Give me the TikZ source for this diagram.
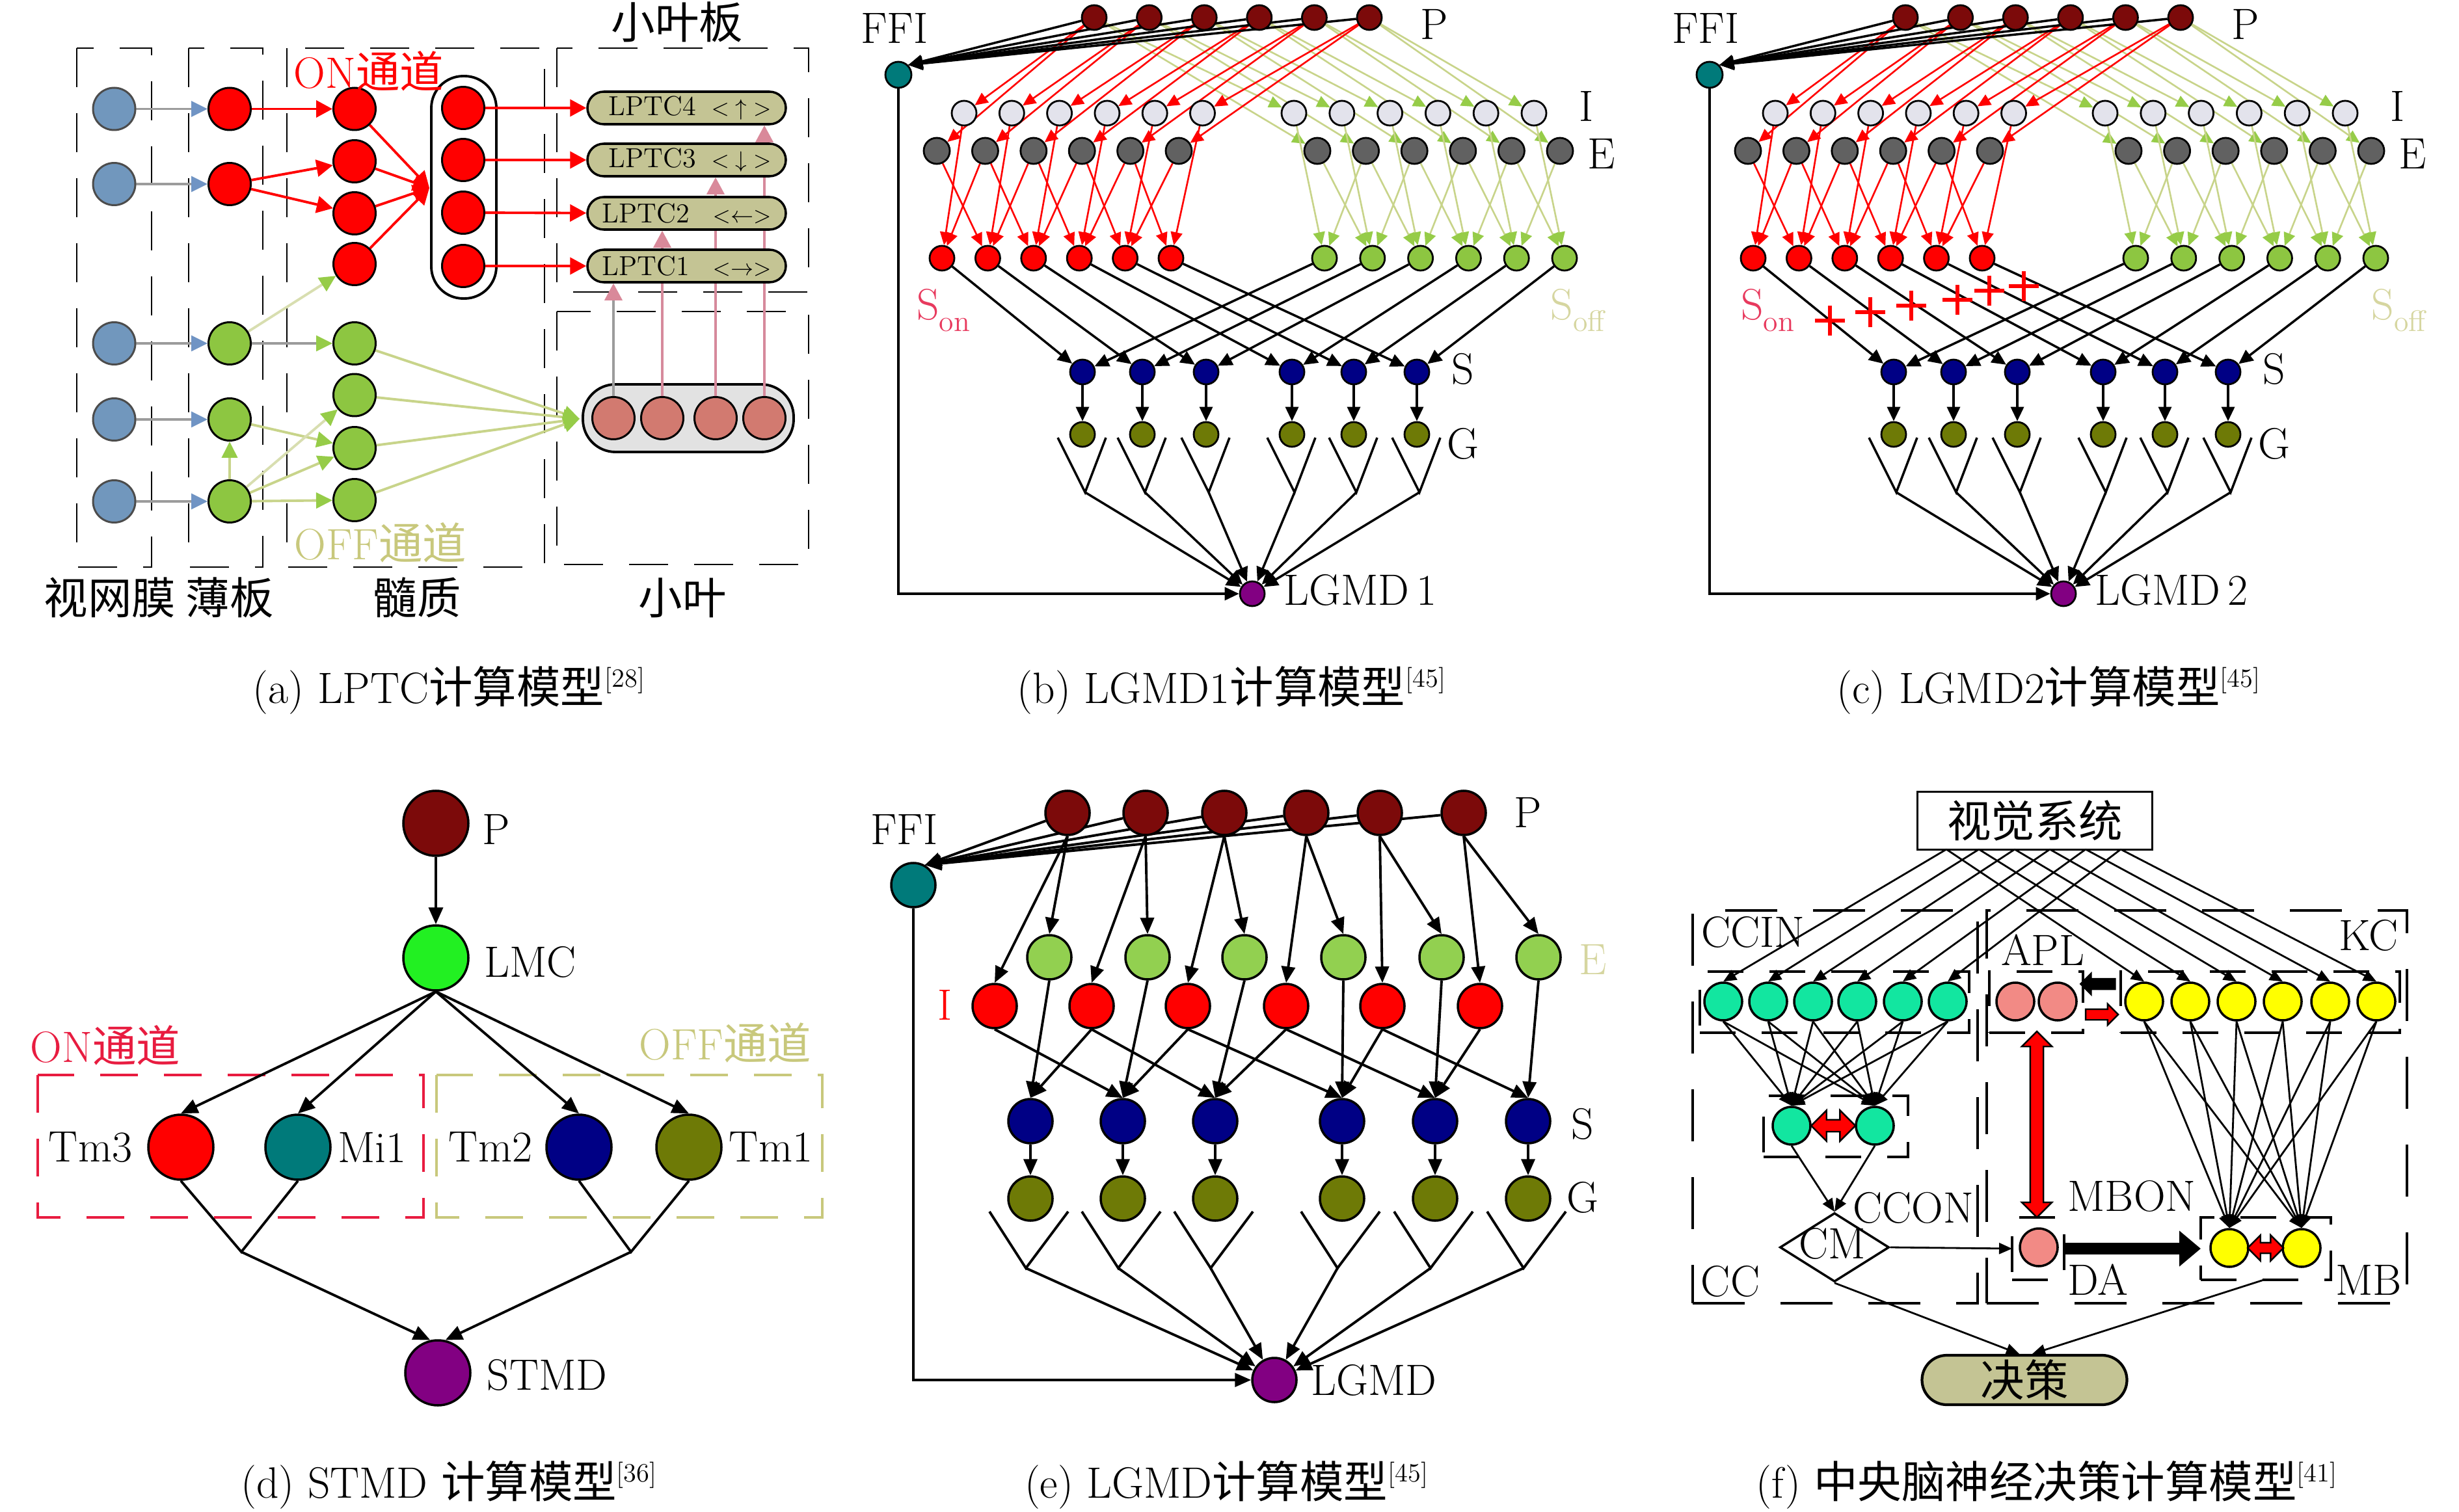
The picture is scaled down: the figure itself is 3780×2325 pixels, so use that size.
\documentclass[tikz,border=0pt]{standalone}
\usepackage{fontspec}
\newfontfamily\cjk{Noto Sans CJK SC}
\usetikzlibrary{arrows.meta,shapes.geometric,shapes.arrows,calc}
\pgfdeclarelayer{back}
\pgfdeclarelayer{edges}
\pgfsetlayers{back,edges,main}
\newcommand\fs{\fontsize{19.2}{22}\selectfont}
\newcommand\fss{\fontsize{12}{14}\selectfont}
\newcommand\symf{\fontsize{10}{12}\selectfont}
\newcommand\refsup[1]{\raisebox{0.85ex}{\fontsize{11.5}{11.5}\selectfont[#1]}}
\newcommand\subt[1]{\raisebox{-0.6ex}{\fontsize{13}{13}\selectfont #1}}
\definecolor{cRetina}{HTML}{7197BD}
\definecolor{cRetHead}{HTML}{7094C4}
\definecolor{cRed}{HTML}{FF0000}
\definecolor{cGreenA}{HTML}{8DC641}
\definecolor{cLob}{HTML}{D27A70}
\definecolor{cLobFill}{HTML}{E2E2E2}
\definecolor{cLPTC}{HTML}{C4C494}
\definecolor{cOff}{HTML}{C8C87C}
\definecolor{cOffLine}{HTML}{C8D48A}
\definecolor{cOffPale}{HTML}{D8DEB0}
\definecolor{cOffHead}{HTML}{96CC48}
\definecolor{cPinkL}{HTML}{D68A9C}
\definecolor{cPinkH}{HTML}{D9899A}
\definecolor{cGrayL}{HTML}{9C9C9C}
\definecolor{cP}{HTML}{7C0A0A}
\definecolor{cTeal}{HTML}{007A7A}
\definecolor{cIgray}{HTML}{E3E3EC}
\definecolor{cEgray}{HTML}{616161}
\definecolor{cNavy}{HTML}{000085}
\definecolor{cOlive}{HTML}{6E7A06}
\definecolor{cPurple}{HTML}{820082}
\definecolor{cLMC}{HTML}{22F022}
\definecolor{cLightG}{HTML}{92D050}
\definecolor{cAqua}{HTML}{12E6A0}
\definecolor{cSalmon}{HTML}{F28A85}
\definecolor{cYel}{HTML}{FFFF00}
\definecolor{cSon}{HTML}{E83A5E}
\definecolor{cSoff}{HTML}{D6D6A0}
\definecolor{cRedBox}{HTML}{E81C40}
\tikzset{
  na/.style={circle, draw=black, line width=0.85pt, inner sep=0pt, minimum size=6.5mm},
  nb/.style={circle, draw=black, line width=0.8pt, inner sep=0pt, minimum size=3.8mm},
  nd/.style={circle, draw=black, line width=1pt, inner sep=0pt, minimum size=10mm},
  ne/.style={circle, draw=black, line width=1pt, inner sep=0pt, minimum size=6.8mm},
  nf/.style={circle, draw=black, line width=1pt, inner sep=0pt, minimum size=5.8mm},
  boxa/.style={draw=black, line width=0.8pt, dash pattern=on 6mm off 4mm},
  fbox/.style={draw=black, line width=1pt, dash pattern=on 8mm off 5.5mm, inner sep=0pt, outer sep=0pt},
  fboxi/.style={draw=black, line width=1pt, dash pattern=on 5.5mm off 4mm, inner sep=0pt, outer sep=0pt},
  aon/.style={draw=cRed, line width=1.1pt, -{Triangle[length=2.5mm,width=2.6mm]}},
  agray/.style={draw=cGrayL, line width=1pt, -{Triangle[length=2.5mm,width=2.4mm,color=cRetHead]}},
  aoff/.style={draw=cOffLine, line width=1.1pt, -{Triangle[length=2.5mm,width=2.4mm,color=cOffHead]}},
  aoffpale/.style={draw=cOffPale, line width=1.1pt, -{Triangle[length=2.5mm,width=2.4mm,color=cOffHead]}},
  aoffgray/.style={draw=cGrayL, line width=1pt, -{Triangle[length=2.5mm,width=2.4mm,color=cOffHead]}},
  apink/.style={draw=cPinkL, line width=1pt, -{Triangle[length=2.6mm,width=2.7mm,color=cPinkH]}},
  apgray/.style={draw=cGrayL, line width=1pt, -{Triangle[length=2.6mm,width=2.7mm,color=cPinkH]}},
  lptc/.style={draw=black, line width=1pt, fill=cLPTC, rounded corners=2.5mm, minimum width=30.5mm, minimum height=5mm, text width=26mm, inner xsep=2.25mm, inner ysep=0pt, font=\fss},
  onar/.style={draw=cRed, line width=0.75pt, -{Triangle[length=2mm,width=1.8mm]}},
  offar/.style={draw=cOffLine, line width=0.75pt, -{Triangle[length=2mm,width=1.8mm,color=cOffHead]}},
  blkar/.style={draw=black, line width=1pt, -{Triangle[length=2.2mm,width=2mm]}},
  blkl/.style={draw=black, line width=1pt},
  dar/.style={draw=black, line width=1.1pt, -{Triangle[length=2.6mm,width=2.2mm]}},
  dln/.style={draw=black, line width=1.1pt},
  ear/.style={draw=black, line width=1.1pt, -{Triangle[length=2.5mm,width=2.1mm]}},
  far/.style={draw=black, line width=0.8pt, -{Triangle[length=2mm,width=1.7mm]}},
  blockred/.style={draw=black, fill=cRed, line width=0.7pt, inner xsep=0pt, outer sep=0pt},
}
% LGMD panel (b)/(c)
\newcommand\LGMDpanel[4]{%
  \node[nb, fill=cTeal, minimum size=4mm] (#1FFI) at (1381,115) {};
  \node[nb, fill=cPurple] (#1LG) at (1925,913) {};
  \foreach \k in {1,...,6}{%
    \node[nb, fill=cP] (#1P\k) at ({1682+84.6*(\k-1)},27) {};
    \node[nb, fill=cIgray] (#1I\k) at ({1482+73.3*(\k-1)},174) {};
    \node[nb, fill=cIgray] (#1J\k) at ({1989+73.8*(\k-1)},174) {};
    \node[nb, fill=cEgray, minimum size=4mm] (#1E\k) at ({1440+74.4*(\k-1)},232) {};
    \node[nb, fill=cEgray, minimum size=4mm] (#1F\k) at ({2025+74.6*(\k-1)},232) {};
    \node[nb, fill=cRed] (#1N\k) at ({1448+70.4*(\k-1)},397) {};
    \node[nb, fill=cGreenA] (#1M\k) at ({2036+73.8*(\k-1)},397) {};
  }
  \foreach \x [count=\k] in {1664,1756,1854,1986,2081,2178}{%
    \node[nb, fill=cNavy] (#1S\k) at (\x,572) {};
    \node[nb, fill=cOlive] (#1G\k) at (\x,668) {};
    \coordinate (#1V\k) at (\x+4,757);
    \coordinate (#1Va\k) at (\x-38,673);
    \coordinate (#1Vb\k) at (\x+36,673);
  }
  \node (#1tP) at (2205,37) {P};
  \node (#1tI) at (2439,163) {I};
  \node (#1tE) at (2462,237) {E};
  \node (#1tS) at (2249,567) {S};
  \node (#1tG) at (2249,682) {G};
  \node (#1tF) at (1375,43) {FFI};
  \node (#1tL) at (2091,907) {#2};
  \node[text=cSon] (#1tSon) at (#3,477) {S\subt{on}};
  \node[text=cSoff] (#1tSoff) at (#4,477) {S\subt{off}};
  \begin{pgfonlayer}{edges}
  \foreach \k in {1,...,6}{%
    \draw[blkar] (#1P\k) -- (#1FFI.45);
    \draw[onar] (#1P\k) -- (#1I\k);
    \draw[onar] (#1P\k) -- (#1E\k);
    \draw[offar] (#1P\k) -- (#1J\k);
    \draw[offar] (#1P\k) -- (#1F\k);
    \draw[onar] (#1I\k) -- (#1N\k);
    \draw[offar] (#1J\k) -- (#1M\k);
    \draw[blkar] (#1N\k) -- (#1S\k);
    \draw[blkar] (#1M\k) -- (#1S\k);
    \draw[blkar] (#1S\k) -- (#1G\k);
    \draw[blkl] (#1Va\k) -- (#1V\k) -- (#1Vb\k);
    \draw[blkar] (#1V\k) -- (#1LG);
  }
  \foreach \k/\j in {1/2,2/1,2/3,3/2,3/4,4/3,4/5,5/4,5/6,6/5}{%
    \draw[onar] (#1E\k) -- (#1N\j);
    \draw[offar] (#1F\k) -- (#1M\j);
  }
  \draw[blkar] (#1FFI) |- (#1LG);
  \end{pgfonlayer}
}
\begin{document}
\begin{tikzpicture}[x=0.1mm, y=-0.1mm, font=\fs]
\useasboundingbox (0,0) rectangle (3780,2325);
\begin{pgfonlayer}{back}
\fill[white] (0,0) rectangle (3780,2325);
\end{pgfonlayer}

%================ (a) =================
\begin{pgfonlayer}{back}
\draw[boxa] (118,74) rectangle (233,872);
\draw[boxa] (290,74) rectangle (404,872);
\draw[boxa] (441,74) rectangle (837,872);
\draw[boxa] (856,74) rectangle (1243,449);
\draw[boxa] (856,479) rectangle (1243,868);
\node[draw=black, line width=1.1pt, rounded corners=4.9mm, minimum width=10mm, minimum height=34.2mm, inner sep=0pt] (lpbox) at (713,288) {};
\node[draw=black, line width=1.1pt, fill=cLobFill, rounded corners=5mm, minimum width=32.4mm, minimum height=10.4mm, inner sep=0pt] (lobox) at (1058,643) {};
\end{pgfonlayer}
\foreach \y [count=\k] in {167.5,283,528,645,771}
  \node[na, fill=cRetina, draw=black!70] (ar\k) at (175.5,\y) {};
\node[na, fill=cRed] (al1) at (353,167.5) {};
\node[na, fill=cRed] (al2) at (353,283) {};
\node[na, fill=cGreenA] (al3) at (353,528) {};
\node[na, fill=cGreenA] (al4) at (353,645) {};
\node[na, fill=cGreenA] (al5) at (353,771) {};
\foreach \y [count=\k] in {167.5,248,328,406}
  \node[na, fill=cRed] (am\k) at (545,\y) {};
\foreach \y [count=\k from 5] in {528,607.5,689,769}
  \node[na, fill=cGreenA] (am\k) at (545,\y) {};
\foreach \y [count=\k] in {166,246,327,409}
  \node[na, fill=cRed] (ap\k) at (712,\y) {};
\foreach \x [count=\k] in {943,1018,1100,1175}
  \node[na, fill=cLob] (ao\k) at (\x,643) {};
\node[lptc] (L4) at (1055.5,166) {\hspace*{1mm}LPTC4\hfill{\symf${<}\;{\uparrow}\;{>}$}};
\node[lptc] (L3) at (1055.5,246) {\hspace*{1mm}LPTC3\hfill{\symf${<}\;{\downarrow}\;{>}$}};
\node[lptc] (L2) at (1055.5,328) {LPTC2\hfill{\symf${<}{\leftarrow}{>}$}};
\node[lptc] (L1) at (1055.5,409) {LPTC1\hfill{\symf${<}{\rightarrow}{>}$}};
\coordinate (cvR) at (660,289);
\coordinate (cvG) at (891,644);
\begin{pgfonlayer}{edges}
\foreach \k in {1,...,5} \draw[agray] (ar\k) -- (al\k);
\draw[aon] (al1) -- (am1);
\draw[aon] (al2) -- (am2);
\draw[aon] (al2) -- (am3);
\foreach \k in {1,...,4} \draw[aon] (am\k) -- (cvR);
\foreach \k/\L in {1/4,2/3,3/2,4/1} \draw[aon] (ap\k) -- (L\L);
\draw[aoffpale] (al3) -- (am4);
\draw[aoffgray] (al3) -- (am5);
\draw[aoff] (al4) -- (am7);
\draw[aoff] (al5) -- (al4);
\draw[aoffpale] (al5) -- (am6);
\draw[aoff] (al5) -- (am7);
\draw[aoff] (al5) -- (am8);
\foreach \k in {5,...,8} \draw[aoff] (am\k) -- (cvG);
\draw[apgray] (ao1.north) -- (ao1.north |- L1.south);
\foreach \k in {2,3,4} \draw[apink] (ao\k.north) -- (ao\k.north |- L\k.south);
\end{pgfonlayer}
\node[text=cRed] (aON) at (567,109) {ON{\cjk 通道}};
\node[text=cOff] (aOFF) at (585,834) {OFF{\cjk 通道}};
\node (aXYB) at (1041,34) {\cjk 小叶板};
\node (aSWM) at (169,919) {\cjk 视网膜};
\node (aBB) at (353,919) {\cjk 薄板};
\node (aSZ) at (641,919) {\cjk 髓质};
\node (aXY) at (1049,919) {\cjk 小叶};
\node (capA) at (690,1061) {(a) LPTC{\cjk 计算模型}\refsup{28}};

%================ (b) and (c) =================
\LGMDpanel{B}{LGMD\,1}{1450}{2425}
\begin{scope}[xshift=124.7mm]
\LGMDpanel{C}{LGMD\,2}{1470}{2440}
\end{scope}
\foreach \x/\y in {2813/493,2875/480,2938/470,3009/461,3058/447,3111/440}
  \draw[cRed, line width=1.5pt] (\x-23,\y) -- (\x+23,\y) (\x,\y-23) -- (\x,\y+23);
\node (capB) at (1893,1061) {(b) LGMD1{\cjk 计算模型}\refsup{45}};
\node (capC) at (3149,1061) {(c) LGMD2{\cjk 计算模型}\refsup{45}};

%================ (d) =================
\begin{pgfonlayer}{back}
\draw[draw=cRedBox, line width=0.9pt, dash pattern=on 5.8mm off 4mm] (58,1653) rectangle (651,1872);
\draw[draw=cOff, line width=0.9pt, dash pattern=on 5.8mm off 4mm] (671,1653) rectangle (1264,1872);
\end{pgfonlayer}
\node[nd, fill=cP] (dP) at (670,1266) {};
\node[nd, fill=cLMC] (dLMC) at (670,1473) {};
\node[nd, fill=cRed] (dTm3) at (278,1764) {};
\node[nd, fill=cTeal] (dMi1) at (458,1764) {};
\node[nd, fill=cNavy] (dTm2) at (890,1764) {};
\node[nd, fill=cOlive] (dTm1) at (1059,1764) {};
\node[nd, fill=cPurple] (dST) at (673,2111) {};
\coordinate (dJL) at (371,1925);
\coordinate (dJR) at (970,1925);
\begin{pgfonlayer}{edges}
\draw[dar] (dP) -- (dLMC);
\foreach \n in {dTm3,dMi1,dTm2,dTm1} \draw[dar] (dLMC.south) -- (\n.north);
\draw[dln] (dTm3.south) -- (dJL) -- (dMi1.south);
\draw[dln] (dTm2.south) -- (dJR) -- (dTm1.south);
\draw[dar] (dJL) -- (dST.103);
\draw[dar] (dJR) -- (dST.77);
\end{pgfonlayer}
\node (dtP) at (763,1275) {P};
\node (dtLMC) at (815,1479) {LMC};
\node (dtTm3) at (139,1764) {Tm3};
\node (dtMi1) at (572,1764) {Mi1};
\node (dtTm2) at (754,1764) {Tm2};
\node (dtTm1) at (1185,1764) {Tm1};
\node (dtST) at (841,2114) {STMD};
\node[text=cRedBox] (dtON) at (162,1607) {ON{\cjk 通道}};
\node[text=cOff] (dtOFF) at (1115,1603) {OFF{\cjk 通道}};
\node (capD) at (690,2283) {(d) STMD {\cjk 计算模型}\refsup{36}};

%================ (e) =================
\node[ne, fill=cTeal] (eFFI) at (1404,1361) {};
\node[ne, fill=cPurple] (eLG) at (1959,2122) {};
\foreach \x [count=\k] in {1641,1761,1882,2008,2121,2250} \node[ne, fill=cP] (eP\k) at (\x,1250) {};
\foreach \x [count=\k] in {1613,1764,1913,2065,2216,2365} \node[ne, fill=cLightG] (eE\k) at (\x,1472) {};
\foreach \x [count=\k] in {1529,1678,1826,1977,2125,2275} \node[ne, fill=cRed] (eI\k) at (\x,1547) {};
\foreach \x [count=\k] in {1584,1726,1868,2063,2206,2349}{
  \node[ne, fill=cNavy] (eS\k) at (\x,1724) {};
  \node[ne, fill=cOlive] (eG\k) at (\x,1843) {};
  \coordinate (eV\k) at (\x-7,1950);
  \coordinate (eVa\k) at (\x-63,1863);
  \coordinate (eVb\k) at (\x+58,1863);
}
\begin{pgfonlayer}{edges}
\foreach \k in {1,...,6}{
  \draw[ear] (eP\k) -- (eFFI.60);
  \draw[ear] (eP\k.south) -- (eE\k.north);
  \draw[ear] (eP\k.south) -- (eI\k.north);
  \draw[ear] (eE\k.south) -- (eS\k.north);
  \draw[ear] (eS\k.south) -- (eG\k.north);
  \draw[dln] (eVa\k) -- (eV\k) -- (eVb\k);
  \draw[ear] (eV\k) -- (eLG);
}
\foreach \k/\j in {1/2,2/1,2/3,3/2,3/4,4/3,4/5,5/4,5/6,6/5} \draw[ear] (eI\k.south) -- (eS\j.north);
\draw[ear] (eFFI) |- (eLG);
\end{pgfonlayer}
\node (etF) at (1390,1275) {FFI};
\node (etP) at (2349,1249) {P};
\node[text=cSoff] (etE) at (2449,1476) {E};
\node[text=cRed] (etI) at (1453,1545) {I};
\node (etS) at (2433,1728) {S};
\node (etG) at (2433,1841) {G};
\node (etL) at (2112,2122) {LGMD};
\node (capE) at (1885,2283) {(e) LGMD{\cjk 计算模型}\refsup{45}};

%================ (f) =================
\begin{pgfonlayer}{back}
\node[fbox, minimum width=43.8mm, minimum height=60.4mm] (CCbox) at (2821,1702) {};
\node[fbox, minimum width=64.6mm, minimum height=60.4mm] (MBouter) at (3377,1702) {};
\node[fboxi, minimum width=41.4mm, minimum height=9.4mm] (CCINbox) at (2820,1541) {};
\node[fboxi, minimum width=14.4mm, minimum height=9.4mm] (APLbox) at (3130,1541) {};
\node[fboxi, minimum width=42.9mm, minimum height=9.4mm] (KCbox) at (3474.5,1541) {};
\node[fboxi, minimum width=22.2mm, minimum height=9.4mm] (COb) at (2822,1732) {};
\node[fboxi, minimum width=8mm, minimum height=9.6mm] (MBONbox) at (3133,1920) {};
\node[fboxi, minimum width=20mm, minimum height=9.6mm] (MBbox) at (3483,1920) {};
\end{pgfonlayer}
\node[draw=black, line width=1.1pt, minimum width=36.1mm, minimum height=8.9mm, inner sep=0pt] (VIS) at (3128,1262) {\cjk 视觉系统};
\foreach \x [count=\k] in {2649,2718,2787,2855,2925,2994} \node[nf, fill=cAqua] (CI\k) at (\x,1540) {};
\foreach \x [count=\k] in {3296,3367,3438,3509,3582,3653} \node[nf, fill=cYel] (KC\k) at (\x,1540) {};
\node[nf, fill=cSalmon] (AP1) at (3098,1540) {};
\node[nf, fill=cSalmon] (AP2) at (3163,1540) {};
\node[nf, fill=cAqua] (CO1) at (2754,1731) {};
\node[nf, fill=cAqua] (CO2) at (2882,1731) {};
\node[nf, fill=cSalmon] (MBON) at (3134,1918) {};
\node[nf, fill=cYel] (MB1) at (3427,1919) {};
\node[nf, fill=cYel] (MB2) at (3538,1919) {};
\node[diamond, draw=black, line width=1pt, minimum width=16.8mm, minimum height=10.6mm, inner sep=0pt] (CM) at (2820,1918) {};
\node (CMt) at (2817,1912) {CM};
\node[draw=black, fill=cLPTC, line width=1.2pt, rounded corners=3.8mm, minimum width=31.5mm, minimum height=7.6mm, inner sep=0pt] (DEC) at (3112,2122) {\cjk 决策};
\foreach \x [count=\k] in {2992,3042,3097,3151,3206,3260} \coordinate (vs\k) at (\x,1306);
\coordinate (MBbot) at (3480,1968);
\begin{pgfonlayer}{edges}
\foreach \k in {1,...,6}{
  \draw[far] (vs\k) -- (CI\k.north);
  \draw[far] (vs\k) -- (KC\k.north);
  \draw[far] (CI\k.south) -- (CO1.north);
  \draw[far] (CI\k.south) -- (CO2.north);
  \draw[far] (KC\k.south) -- (MB1.north);
  \draw[far] (KC\k.south) -- (MB2.north);
}
\draw[far] (CO1.south) -- (CM.north);
\draw[far] (CO2.south) -- (CM.north);
\draw[far] (CM.east) -- (MBONbox.west);
\draw[far] (CM.south) -- ($(DEC.north)+(-8,0)$);
\draw[far] (MBbot) -- ($(DEC.north)+(12,0)$);
\end{pgfonlayer}
\draw[draw=black, line width=5.1pt, -{Triangle[length=3.3mm,width=5.3mm]}] (MBONbox.east) -- (MBbox.west);
\node[blockred, double arrow, inner ysep=0.8mm, minimum height=6.8mm, double arrow head extend=1.45mm] (COar) at ($(CO1)!0.5!(CO2)$) {};
\node[blockred, double arrow, inner ysep=0.7mm, minimum height=5.5mm, double arrow head extend=1.15mm] (MBar) at ($(MB1)!0.5!(MB2)$) {};
\node[blockred, double arrow, rotate=90, inner ysep=0.9mm, minimum height=28.6mm, double arrow head extend=1.3mm] (APar) at (3131,1729) {};
\node[draw=black, fill=black, line width=0.5pt, inner xsep=0pt, inner ysep=0.75mm, single arrow, rotate=180, minimum height=5.4mm, single arrow head extend=0.85mm] (KCar) at (3229,1513) {};
\node[blockred, single arrow, inner ysep=0.7mm, minimum height=5mm, single arrow head extend=0.8mm] (APLar) at (3227,1560) {};
\node (tCCIN) at (2695,1433) {CCIN};
\node (tKC) at (3641,1438) {KC};
\node (tAPL) at (3140,1461) {APL};
\node (tCCON) at (2941,1857) {CCON};
\node (tMBON) at (3277,1839) {MBON};
\node (tCC) at (2660,1970) {CC};
\node (tDA) at (3225,1968) {DA};
\node (tMB) at (3641,1968) {MB};
\node (capF) at (3146,2283) {(f) {\cjk 中央脑神经决策计算模型}\refsup{41}};
\end{tikzpicture}
\end{document}
